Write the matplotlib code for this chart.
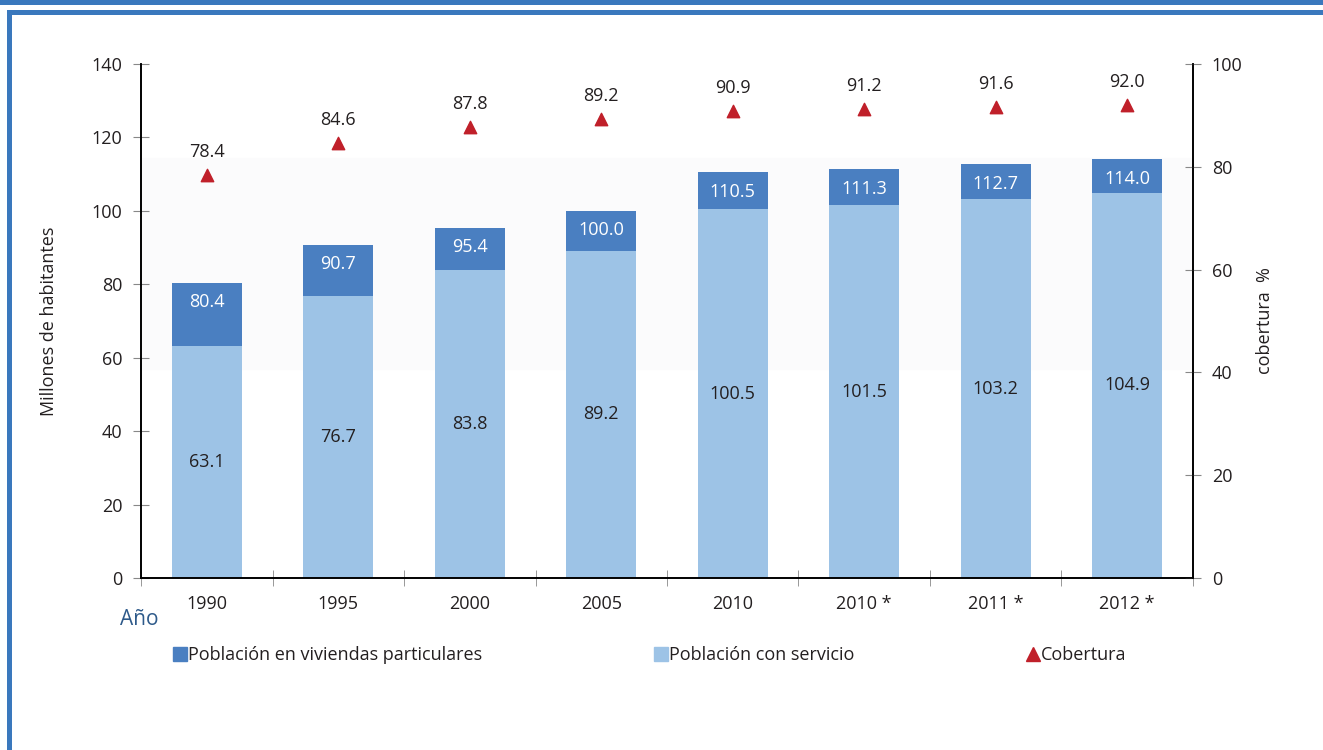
import matplotlib.pyplot as plt
import numpy as np
from matplotlib.lines import Line2D
from matplotlib.patches import Rectangle

# Data
years = ['1990', '1995', '2000', '2005', '2010', '2010 *', '2011 *', '2012 *']
total_pop = [80.4, 90.7, 95.4, 100.0, 110.5, 111.3, 112.7, 114.0]
served_pop = [63.1, 76.7, 83.8, 89.2, 100.5, 101.5, 103.2, 104.9]
coverage = [78.4, 84.6, 87.8, 89.2, 90.9, 91.2, 91.6, 92.0]

dark_blue = '#4a7fc1'
light_blue = '#9dc3e6'
red = '#c0202a'
frame_blue = '#3a78bd'
text_col = '#231f20'

plt.rcParams['font.family'] = ['Open Sans', 'DejaVu Sans']

fig = plt.figure(figsize=(13.23, 7.5), dpi=100)
ax = fig.add_axes([0.1066, 0.2293, 0.7951, 0.6854])
ax2 = ax.twinx()

x = np.arange(len(years))
w = 0.53
total = np.array(total_pop)
served = np.array(served_pop)

# very faint background band behind bars
ax.axhspan(57, 114.5, color='#fbfbfc', zorder=0)

ax.bar(x, served, width=w, color=light_blue, zorder=2)
ax.bar(x, total - served, bottom=served, width=w, color=dark_blue, zorder=2)

for xi, s, t in zip(x, served, total):
    ax.text(xi, s / 2, f'{s:.1f}', ha='center', va='center',
            fontsize=13, color=text_col, zorder=3)
    ax.text(xi, t - 5.3, f'{t:.1f}', ha='center', va='center',
            fontsize=13, color='white', zorder=3)

ax.set_xlim(-0.5, len(years) - 0.5)
ax.set_ylim(0, 140)
ax.set_yticks(range(0, 141, 20))
ax.set_xticks(x)
ax.set_xticklabels(years, fontsize=13, color=text_col)
ax.set_xticks(np.arange(-0.5, len(years)), minor=True)
ax.tick_params(axis='x', which='major', length=0, pad=12)
ax.tick_params(axis='x', which='minor', direction='inout', length=11,
               color='#888888')
ax.tick_params(axis='y', direction='inout', length=11, color='#888888',
               labelsize=13, labelcolor=text_col, pad=8)
ax.set_ylabel('Millones de habitantes', fontsize=13, color=text_col,
              labelpad=24)

ax2.scatter(x, coverage, marker='^', s=80, color=red, zorder=4)
for xi, c in zip(x, coverage):
    ax2.text(xi, c + 4.5, f'{c:.1f}', ha='center', va='center',
             fontsize=13, color=text_col)
ax2.set_ylim(0, 100)
ax2.set_yticks(range(0, 101, 20))
ax2.tick_params(axis='y', direction='inout', length=11, color='#888888',
                labelsize=13, labelcolor=text_col, pad=8)
ax2.set_ylabel('cobertura  %', fontsize=13, color=text_col, labelpad=10)

for a in (ax, ax2):
    a.spines['top'].set_visible(False)
    a.spines['left'].set_linewidth(1.2)
    a.spines['right'].set_linewidth(1.2)
    a.spines['bottom'].set_linewidth(1.2)

fig.text(0.091, 0.167, 'Año', fontsize=15, color='#2e5a8a')

handles = [
    Line2D([], [], marker='s', linestyle='none', color=dark_blue, markersize=10),
    Line2D([], [], marker='s', linestyle='none', color=light_blue, markersize=10),
    Line2D([], [], marker='^', linestyle='none', color=red, markersize=10),
]
labels = ['Población en viviendas particulares', 'Población con servicio',
          'Cobertura']
fig.legend(handles, labels, loc='center left', bbox_to_anchor=(0.1195, 0.126),
           ncol=3, frameon=False, fontsize=13, handlelength=0.6,
           handletextpad=0.15, columnspacing=9.6, labelcolor=text_col)

# frame lines
fig.add_artist(Rectangle((0, 1 - 5 / 750), 1, 5 / 750, transform=fig.transFigure,
                         color=frame_blue, linewidth=0))
fig.add_artist(Rectangle((7 / 1323, 1 - 15 / 750), 1, 5 / 750,
                         transform=fig.transFigure, color=frame_blue, linewidth=0))
fig.add_artist(Rectangle((7 / 1323, 0), 5 / 1323, 1 - 10 / 750,
                         transform=fig.transFigure, color=frame_blue, linewidth=0))

fig.savefig('out.png', dpi=100)
